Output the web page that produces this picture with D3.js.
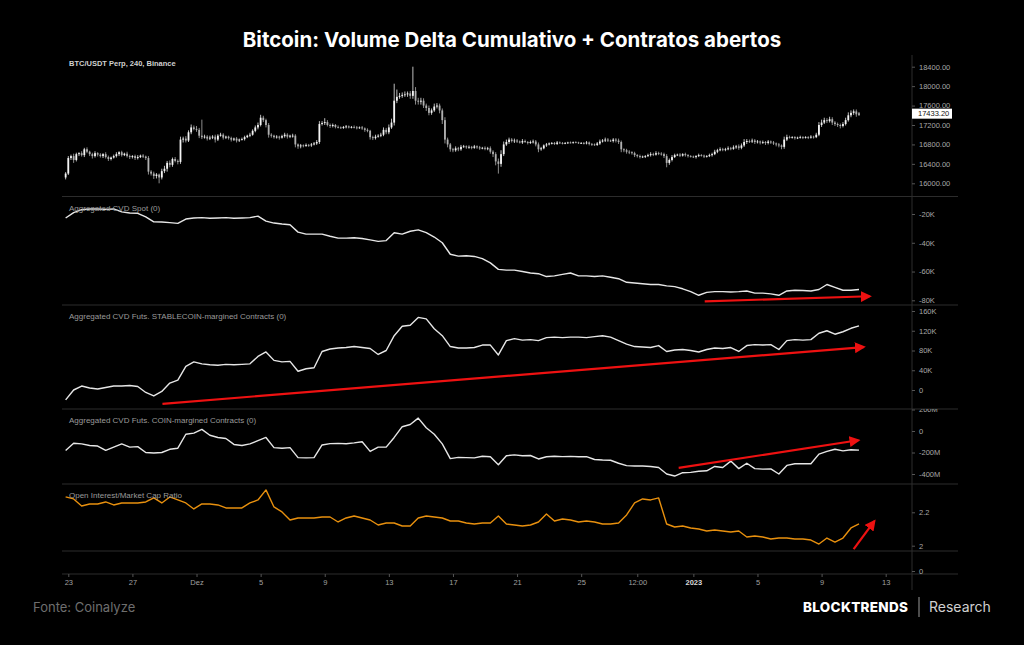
<!DOCTYPE html>
<html lang="pt">
<head>
<meta charset="UTF-8">
<title>Bitcoin: Volume Delta Cumulativo + Contratos abertos</title>
<script src="https://d3js.org/d3.v7.min.js"></script>
<style>
  body { margin: 0; background: #000; }
  svg { display: block; }
</style>
</head>
<body>
<div id="chart"></div>
<script>
// 4h candles, BTC/USDT Perp (Binance), starting 22 Nov 2022 20:00
const candleStart = Date.UTC(2022, 10, 22, 20);
const openStart = 16120;
const closes = [16200,
  16520,16560,16480,16600,16620,16580,
  16700,16650,16600,16560,16620,16590,
  16560,16600,16540,16500,16530,16560,
  16600,16640,16580,16610,16560,16540,
  16560,16520,16540,16570,16550,16520,
  16240,16200,16150,16180,16120,16250,
  16300,16420,16380,16500,16460,16440,
  16900,16920,16880,17050,17150,17120,
  17100,16980,16950,16960,16920,16940,
  16960,16900,16980,17000,16940,16960,
  16930,16900,16920,16880,16900,16910,
  16950,16980,17000,17080,17150,17200,
  17350,17300,17200,17000,16980,16950,
  16960,16940,16970,17000,16960,16980,
  16980,16800,16760,16780,16770,16790,
  16780,16800,16820,16850,17220,17240,
  17260,17200,17180,17200,17160,17150,
  17140,17160,17170,17150,17160,17150,
  17140,17150,17130,17100,17080,16950,
  16930,16960,16980,17000,17100,17050,
  17150,17250,17700,17780,17800,17820,
  17830,17850,17800,17900,17700,17680,
  17700,17600,17550,17450,17500,17580,
  17600,17500,17300,16900,16800,16700,
  16680,16720,16700,16750,16760,16740,
  16750,16730,16760,16740,16720,16730,
  16710,16720,16650,16600,16450,16400,
  16600,16800,16850,16900,16870,16880,
  16860,16840,16870,16850,16830,16850,
  16860,16800,16700,16720,16780,16800,
  16820,16830,16810,16840,16830,16820,
  16830,16840,16835,16845,16840,16830,
  16830,16820,16840,16810,16800,16790,
  16820,16860,16880,16900,16880,16870,
  16900,16880,16850,16700,16680,16650,
  16640,16620,16580,16560,16540,16550,
  16560,16580,16600,16590,16620,16610,
  16600,16560,16420,16480,16540,16580,
  16590,16570,16600,16580,16560,16550,
  16540,16560,16580,16570,16550,16560,
  16580,16600,16650,16680,16700,16690,
  16700,16720,16710,16740,16760,16730,
  16780,16850,16870,16860,16880,16850,
  16860,16840,16850,16830,16860,16840,
  16820,16800,16780,16750,16900,16950,
  16940,16950,16930,16940,16950,16940,
  16950,16940,16960,16950,17000,17200,
  17250,17300,17280,17320,17250,17220,
  17200,17180,17220,17300,17400,17450,
  17480,17420,17433.2];
// wick length above / below the body (USD)
const wickHi = [30,
  40,30,50,30,20,40, 30,40,20,30,40,20, 30,20,40,30,20,30, 40,20,30,20,40,30,
  20,30,40,20,30,20, 40,30,40,30,20,50, 60,40,50,30,40,30, 60,40,50,40,60,40,
  60,40,330,40,30,40, 30,40,30,40,30,20, 20,30,20,30,20,30, 30,20,40,30,40,50,
  60,40,30,40,30,20, 30,20,30,40,30,20, 40,30,20,30,20,30, 20,30,30,40,60,40,
  80,40,30,30,20,30, 20,20,30,20,20,30, 30,20,30,20,30,20, 30,40,30,40,50,40,
  60,80,350,150,60,50, 60,40,50,500,80,60, 60,50,40,50,40,60, 50,40,40,60,40,30,
  30,40,30,40,30,20, 30,20,30,20,30,20, 30,30,40,30,40,60, 80,60,50,40,30,40,
  30,20,40,30,20,30, 40,30,40,30,20,30, 20,20,20,30,20,20, 20,15,20,15,20,15,
  20,20,30,20,20,20, 30,40,30,40,30,20, 30,30,40,30,20,30, 30,20,30,20,30,20,
  20,30,40,30,40,30, 30,30,40,30,40,30, 20,30,20,30,20,20, 20,20,30,20,20,20,
  30,30,40,30,40,30, 30,40,30,40,30,40, 40,60,40,30,40,30, 30,20,30,20,30,20,
  30,20,30,20,60,50, 30,20,20,20,30,20, 20,20,30,20,40,60, 60,50,40,50,40,30,
  30,30,40,50,60,50, 40,40,30];
const wickLo = [40,
  30,40,60,30,40,30, 40,30,40,50,30,40, 30,40,30,40,30,20, 30,40,30,20,30,40,
  30,40,30,20,30,40, 60,40,60,50,120,40, 40,60,50,40,30,50, 40,60,40,30,40,30,
  40,50,40,30,40,30, 30,60,30,20,40,30, 30,40,30,40,30,20, 30,20,30,20,30,40,
  30,40,50,60,40,30, 30,40,20,30,40,30, 40,60,50,40,30,20, 30,30,20,30,40,30,
  40,30,40,30,30,20, 20,20,30,20,20,20, 30,20,30,40,30,50, 40,30,20,30,30,40,
  40,30,60,50,40,40, 40,50,60,60,80,60, 60,50,60,50,40,30, 40,60,80,80,60,50,
  40,30,40,30,20,30, 30,30,20,30,30,20, 30,30,40,60,80,200, 60,40,30,40,30,40,
  30,20,30,20,30,20, 30,40,60,30,20,30, 20,20,20,20,20,20, 15,20,15,20,15,20,
  20,20,20,30,30,20, 20,30,20,30,30,20, 30,40,40,60,40,40, 40,30,40,30,30,20,
  30,20,30,30,20,30, 30,40,90,40,30,20, 20,30,20,30,30,20, 20,30,20,20,30,20,
  20,30,20,30,20,30, 30,20,30,20,30,40, 30,30,40,30,30,40, 30,40,30,40,30,30,
  30,40,40,50,40,30, 20,20,30,20,20,30, 20,30,20,30,20,30, 40,30,40,30,50,40,
  40,50,30,30,30,40, 40,50,30];

// indicator series, sampled every 12h from 22 Nov 2022 20:00
const lineStart = Date.UTC(2022, 10, 22, 20);
const cvdSpot = [ // K
  -22.8,-19,-17,-16.5,-16.5,-16.8,-16.5,-18.5,-19.3,-19.5,
  -22,-25.5,-25.6,-26,-26.5,-23.5,-22.8,-22.5,-23,-22.8,
  -22.5,-23,-22.8,-22.5,-21.5,-25,-26.3,-27,-27.5,-32.6,
  -34,-34,-34,-35.5,-36.8,-36.8,-36.5,-37,-38,-39,
  -38.5,-33,-34,-32,-31,-33,-36,-40,-48,-49.3,
  -49,-49.5,-51,-54,-58.5,-59,-59,-60,-61,-61.5,
  -63.5,-63,-62,-61,-63,-63,-63.5,-63,-64,-65,
  -67.5,-68,-68.5,-69,-69,-70,-70.5,-72,-74,-76.5,
  -74.5,-74,-74,-74.2,-74,-73.5,-75,-75,-75.5,-76.5,
  -73.5,-73,-73.2,-73.5,-72.5,-69,-71,-73,-73,-72.5];
const cvdStable = [ // K
  -20,0,8,4,2,5,8,8,9,7,
  -5,-12,-3,14,20,48,57,53,51,50,
  52,51,52,53,68,77,60,57,58,38,
  43,45,78,83,85,86,88,86,84,72,
  80,110,129,131,147,144,124,110,88,85,
  85,86,91,91,71,100,104,101,102,100,
  106,107,106,107,107,106,108,110,107,100,
  93,88,87,86,90,78,81,82,80,77,
  82,85,84,86,78,90,92,91,92,82,
  100,102,101,102,115,120,113,118,125,130];
const cvdCoin = [ // M
  -181,-114,-120,-135,-140,-180,-150,-120,-150,-145,
  -200,-205,-200,-170,-160,-30,-20,15,-40,-60,
  -70,-125,-135,-120,-90,-60,-155,-160,-155,-248,
  -250,-248,-130,-117,-115,-118,-110,-100,-190,-150,
  -150,-60,40,60,120,30,-30,-120,-257,-245,
  -248,-250,-235,-240,-314,-230,-222,-230,-228,-260,
  -240,-235,-238,-236,-240,-238,-265,-270,-272,-300,
  -322,-325,-326,-330,-340,-400,-419,-388,-385,-375,
  -370,-330,-340,-280,-350,-300,-350,-355,-352,-400,
  -320,-305,-305,-305,-215,-190,-170,-185,-175,-178];
const oiRatio = [
  2.292,2.28,2.238,2.25,2.25,2.262,2.244,2.256,2.256,2.256,
  2.262,2.286,2.256,2.292,2.274,2.256,2.22,2.25,2.25,2.244,
  2.226,2.226,2.226,2.256,2.274,2.334,2.232,2.202,2.154,2.166,
  2.166,2.166,2.172,2.172,2.142,2.166,2.178,2.166,2.154,2.124,
  2.136,2.136,2.118,2.118,2.166,2.178,2.172,2.166,2.148,2.148,
  2.136,2.13,2.136,2.136,2.178,2.13,2.124,2.118,2.124,2.142,
  2.19,2.148,2.16,2.154,2.142,2.148,2.142,2.13,2.13,2.136,
  2.184,2.256,2.28,2.274,2.286,2.13,2.112,2.118,2.106,2.1,
  2.088,2.094,2.088,2.082,2.088,2.052,2.058,2.052,2.04,2.046,
  2.046,2.04,2.04,2.034,2.01,2.046,2.022,2.046,2.106,2.13];

const priceTicks = [16000,16400,16800,17200,17600,18000,18400];
const spotTicks = [-80,-60,-40,-20];
const stableTicks = [0,40,80,120,160];
const coinTicks = [-400,-200,0,200];
const oiTicks = [2,2.2];
const dateTicks = [Date.UTC(2022,10,23), Date.UTC(2022,10,27), Date.UTC(2022,11,1), Date.UTC(2022,11,5),
  Date.UTC(2022,11,9), Date.UTC(2022,11,13), Date.UTC(2022,11,17), Date.UTC(2022,11,21), Date.UTC(2022,11,25),
  Date.UTC(2022,11,28,12), Date.UTC(2023,0,1), Date.UTC(2023,0,5), Date.UTC(2023,0,9), Date.UTC(2023,0,13)];
const dateLabels = ["23","27","Dez","5","9","13","17","21","25","12:00","2023","5","9","13"];
const lastPrice = 17433.20;

// red trend arrows drawn on the chart: [time, value] pairs
const arrows = [
  { panel: 1, from: [Date.UTC(2023,0,1,17), -80.7], to: [Date.UTC(2023,0,12,0), -77.2] },
  { panel: 2, from: [Date.UTC(2022,10,28,21), -28], to: [Date.UTC(2023,0,11,15), 87] },
  { panel: 3, from: [Date.UTC(2022,11,31,2), -343], to: [Date.UTC(2023,0,11,7), -86] },
  { panel: 4, from: [Date.UTC(2023,0,11,0), 1.98], to: [Date.UTC(2023,0,12,7), 2.147] }
];

const W = 1024, H = 645;
const left = 62, axisX = 912, right = 958;
const H4 = 4 * 3600 * 1000, H12 = 12 * 3600 * 1000;
const smallFont = "'Liberation Sans', Arial, sans-serif";

const svg = d3.select("#chart").append("svg")
  .attr("width", W).attr("height", H)
  .style("background", "#000");

const x = d3.scaleUtc()
  .domain([Date.UTC(2022,10,23), Date.UTC(2023,0,13)])
  .range([68.3, 885.7]);

const panels = [
  { top: 55, bottom: 196.5, domain: [16000,18400], range: [183.3,66.7], ticks: priceTicks, fmt: d => d.toFixed(2), label: "BTC/USDT Perp, 240, Binance" },
  { top: 196.5, bottom: 305, domain: [-80,-20], range: [300.3,214], ticks: spotTicks, fmt: d => d + "K", label: "Aggregated CVD Spot (0)", data: cvdSpot, color: "#e6e6e6" },
  { top: 305, bottom: 409, domain: [0,160], range: [390,311], ticks: stableTicks, fmt: d => d === 0 ? "0" : d + "K", label: "Aggregated CVD Futs. STABLECOIN-margined Contracts (0)", data: cvdStable, color: "#e6e6e6" },
  { top: 409, bottom: 484, domain: [-400,0], range: [474,431], ticks: coinTicks, fmt: d => d === 0 ? "0" : d + "M", label: "Aggregated CVD Futs. COIN-margined Contracts (0)", data: cvdCoin, color: "#e6e6e6" },
  { top: 484, bottom: 551, domain: [2,2.2], range: [545.7,512.3], ticks: oiTicks, fmt: d => String(d), label: "Open Interest/Market Cap Ratio", data: oiRatio, color: "#e8900e" },
  { top: 551, bottom: 574, domain: [0,1], range: [571,551], ticks: [0], fmt: d => "0" }
];

panels.forEach((p, i) => {
  p.y = d3.scaleLinear().domain(p.domain).range(p.range);
  svg.append("clipPath").attr("id", "clip" + i)
    .append("rect").attr("x", left).attr("y", p.top)
    .attr("width", W - left).attr("height", p.bottom - p.top);
});

// separators and price axis line
svg.append("g").selectAll("line")
  .data(panels.map(p => p.bottom))
  .join("line")
  .attr("x1", left).attr("x2", right)
  .attr("y1", d => d).attr("y2", d => d)
  .attr("stroke", "#2c2c2c").attr("stroke-width", 1);

svg.append("line")
  .attr("x1", axisX).attr("x2", axisX).attr("y1", 55).attr("y2", 590)
  .attr("stroke", "#2c2c2c");

// candles
const candles = closes.map((c, i) => {
  const o = i === 0 ? openStart : closes[i - 1];
  return { t: candleStart + i * H4, o, c, h: Math.max(o, c) + wickHi[i], l: Math.min(o, c) - wickLo[i] };
});
const yP = panels[0].y;
const cg = svg.append("g").attr("clip-path", "url(#clip0)");
cg.selectAll("line.wick").data(candles).join("line")
  .attr("class", "wick")
  .attr("x1", d => x(d.t)).attr("x2", d => x(d.t))
  .attr("y1", d => yP(d.h)).attr("y2", d => yP(d.l))
  .attr("stroke", d => d.c >= d.o ? "#ececec" : "#b0b0b0")
  .attr("stroke-width", 0.8);
cg.selectAll("rect").data(candles).join("rect")
  .attr("x", d => x(d.t) - 0.9)
  .attr("width", 1.8)
  .attr("y", d => yP(Math.max(d.o, d.c)))
  .attr("height", d => Math.max(0.8, yP(Math.min(d.o, d.c)) - yP(Math.max(d.o, d.c))))
  .attr("fill", d => d.c >= d.o ? "#f4f4f4" : "#b0b0b0");

// indicator lines
panels.forEach((p, i) => {
  if (!p.data) return;
  const line = d3.line()
    .x((d, j) => x(lineStart + j * H12))
    .y(d => p.y(d));
  svg.append("path")
    .attr("clip-path", "url(#clip" + i + ")")
    .datum(p.data)
    .attr("d", line)
    .attr("fill", "none")
    .attr("stroke", p.color)
    .attr("stroke-width", 1.4)
    .attr("stroke-linejoin", "round");
});

// panel titles
panels.forEach((p, i) => {
  if (!p.label) return;
  svg.append("text")
    .attr("x", 69).attr("y", p.top + (i === 0 ? 11 : 14))
    .attr("fill", i === 0 ? "#d0d0d0" : "#9a9a9a")
    .attr("font-family", smallFont)
    .attr("font-size", i === 0 ? 7.5 : 8)
    .attr("font-weight", i === 0 ? "bold" : "normal")
    .text(p.label);
});

// y axes (clip in page space, axis moved inside)
panels.forEach((p, i) => {
  const g = svg.append("g")
    .attr("clip-path", "url(#clip" + i + ")")
    .append("g")
    .attr("transform", `translate(${axisX},0)`)
    .call(d3.axisRight(p.y).tickValues(p.ticks).tickFormat(p.fmt).tickSize(3).tickPadding(4));
  g.select(".domain").remove();
  g.selectAll(".tick line").attr("stroke", "#555");
  g.selectAll(".tick text")
    .attr("fill", "#a8a8a8")
    .attr("font-family", smallFont)
    .attr("font-size", 7.5);
});

// last price tag
const py = yP(lastPrice);
svg.append("rect")
  .attr("x", axisX).attr("y", py - 5).attr("width", 40).attr("height", 10)
  .attr("fill", "#fff");
svg.append("text")
  .attr("x", axisX + 6).attr("y", py + 2.7)
  .attr("fill", "#111")
  .attr("font-family", smallFont)
  .attr("font-size", 7.5)
  .text(lastPrice.toFixed(2));

// x axis
const xg = svg.append("g")
  .attr("transform", "translate(0,574)")
  .call(d3.axisBottom(x).tickValues(dateTicks).tickFormat((d, i) => dateLabels[i]).tickSize(3).tickPadding(3));
xg.select(".domain").remove();
xg.selectAll(".tick line").attr("stroke", "#555");
xg.selectAll(".tick text")
  .attr("fill", (d, i) => dateLabels[i] === "2023" ? "#d8d8d8" : "#a0a0a0")
  .attr("font-weight", (d, i) => dateLabels[i] === "2023" ? "bold" : "normal")
  .attr("font-family", smallFont)
  .attr("font-size", 7.5);

// arrows
const defs = svg.append("defs");
defs.append("marker").attr("id", "head")
  .attr("viewBox", "0 0 10 10").attr("refX", 8).attr("refY", 5)
  .attr("markerWidth", 5).attr("markerHeight", 5)
  .attr("orient", "auto")
  .append("path").attr("d", "M0,0L10,5L0,10Z").attr("fill", "#ee1111");
svg.append("g").selectAll("line").data(arrows).join("line")
  .attr("x1", d => x(d.from[0])).attr("y1", d => panels[d.panel].y(d.from[1]))
  .attr("x2", d => x(d.to[0])).attr("y2", d => panels[d.panel].y(d.to[1]))
  .attr("stroke", "#ee1111").attr("stroke-width", 2.2)
  .attr("marker-end", "url(#head)");

// title and footer
svg.append("text")
  .attr("x", 512).attr("y", 47)
  .attr("text-anchor", "middle")
  .attr("fill", "#fff")
  .attr("font-family", "Inter, sans-serif")
  .attr("font-weight", "bold")
  .attr("font-size", 20.5)
  .text("Bitcoin: Volume Delta Cumulativo + Contratos abertos");

svg.append("text")
  .attr("x", 33).attr("y", 612)
  .attr("fill", "#6e6e6e")
  .attr("font-family", "Inter, sans-serif")
  .attr("font-size", 13)
  .text("Fonte: Coinalyze");

svg.append("text")
  .attr("x", 803).attr("y", 612)
  .attr("fill", "#fff")
  .attr("font-family", "Inter, sans-serif")
  .attr("font-weight", 800)
  .attr("font-size", 13.5)
  .attr("letter-spacing", 0.3)
  .text("BLOCKTRENDS");
svg.append("line")
  .attr("x1", 919).attr("x2", 919).attr("y1", 597).attr("y2", 617)
  .attr("stroke", "#9a9a9a");
svg.append("text")
  .attr("x", 929).attr("y", 612)
  .attr("fill", "#d0d0d0")
  .attr("font-family", "Inter, sans-serif")
  .attr("font-size", 14)
  .text("Research");
</script>
</body>
</html>
